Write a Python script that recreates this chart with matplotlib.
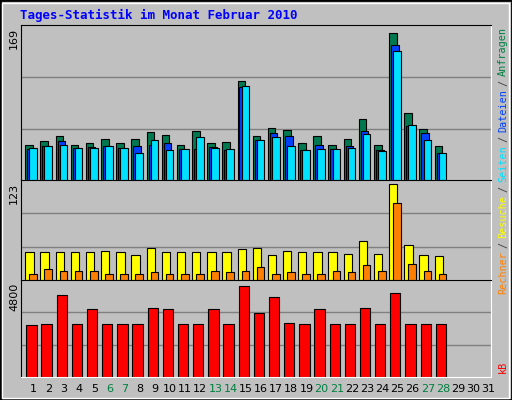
import matplotlib
matplotlib.use("Agg")
import matplotlib.pyplot as plt
from matplotlib.patches import Rectangle
import numpy as np

days = list(range(1, 32))
hits  = [39,43,49,39,41,46,41,46,53,50,39,54,41,42,110,49,58,56,41,49,39,46,68,39,163,74,57,38]
files = [35,38,43,36,37,38,36,38,39,41,35,35,37,33,103,45,52,49,33,39,35,38,54,33,150,60,52,30]
pages = [36,38,39,36,36,38,36,30,45,33,35,48,36,35,104,45,48,38,33,35,35,36,51,32,144,61,45,30]
visits = [35,36,36,36,36,37,36,32,40,35,36,36,36,36,39,40,32,37,35,35,35,33,49,33,122,44,32,31]
sites  = [8,14,12,11,12,8,8,8,10,8,8,8,12,10,11,16,8,10,8,8,11,10,19,12,97,20,12,7]
kbytes = [2670,2720,4200,2720,3490,2720,2720,2720,3540,3490,2720,2720,3490,2720,4660,3280,4100,2770,2720,3490,2720,2720,3540,2720,4300,2720,2720,2720]
weekend = [6,7,13,14,20,21,27,28]
max_hits, max_visits, max_kb = 169, 123, 4800

W, H = 512, 400
fig = plt.figure(figsize=(W/100, H/100), dpi=100, facecolor="#C0C0C0")
fig.patches.append(Rectangle((0, 0), 1, 1, transform=fig.transFigure, fill=False, ec="black", lw=2))
fig.patches.append(Rectangle((2/W, 2/H), 1-5/W, 1-5/H, transform=fig.transFigure, fill=False, ec="white", lw=1))

def ax_at(x0, y0, x1, y1):
    ax = fig.add_axes([x0/W, 1-y1/H, (x1-x0)/W, (y1-y0)/H])
    ax.set_facecolor("#C0C0C0")
    ax.set_xlim(0.5, 31.5)
    for s in ("top", "left"):
        ax.spines[s].set_color("black")
    for s in ("bottom", "right"):
        ax.spines[s].set_color("white")
    ax.set_xticks([]); ax.set_yticks([])
    return ax

def grid(ax, vmax):
    for f in (1/3, 2/3):
        ax.axhline(vmax*f, color="#808080", lw=1, zorder=0)

n = len(hits)
x = np.arange(1, n+1)
ax1 = ax_at(21, 25, 491, 180)
ax1.set_ylim(0, max_hits*1.02); grid(ax1, max_hits*1.02*0.995)
ax1.bar(x-0.22, hits, 0.5, align="edge", color="#007850", ec="black", lw=0.8)
ax1.bar(x-0.09, files, 0.5, align="edge", color="#0040FF", ec="black", lw=0.8)
ax1.bar(x+0.05, pages, 0.5, align="edge", color="#00E0FF", ec="black", lw=0.8)

ax2 = ax_at(21, 180, 491, 280)
ax2.set_ylim(0, max_visits*1.03); grid(ax2, max_visits*1.03)
ax2.bar(x-0.22, visits, 0.55, align="edge", color="#FFFF00", ec="black", lw=0.8)
ax2.bar(x+0.05, sites, 0.5, align="edge", color="#FF8000", ec="black", lw=0.8)

ax3 = ax_at(21, 280, 491, 377)
ax3.set_ylim(0, max_kb*1.03); grid(ax3, max_kb*1.03)
ax3.bar(x-0.15, kbytes, 0.68, align="edge", color="#FF0000", ec="black", lw=0.8)

for d in days:
    px = 21 + (d-0.5)/31*470 + 5
    fig.text(px/W, 1-389/H, str(d), ha="center", va="center", fontsize=8,
             color="#008040" if d in weekend else "black")

fig.text(20/W, 1-15/H, "Tages-Statistik im Monat Februar 2010", fontsize=9, fontweight="bold",
         color="#0000FF", family="DejaVu Sans Mono", va="center")
for lab, yy in (("169", 28), ("123", 183), ("4800", 283)):
    fig.text(14/W, 1-yy/H, lab, rotation=90, fontsize=8, va="top", ha="center")

pieces = [("Anfragen", "#008040", 27), ("/", "#404040", 80), ("Dateien", "#0040FF", 89),
          ("/", "#404040", 136), ("Seiten", "#00E0FF", 145), ("/", "#404040", 186),
          ("Besuche", "#FFFF00", 195), ("/", "#404040", 242), ("Rechner", "#FF8000", 251),
          ("kB", "#FF0000", 361)]
for t, c, yy in pieces:
    fig.text(503/W, 1-yy/H, t, rotation=90, fontsize=7.3, color=c, va="top", ha="center",
             family="DejaVu Sans Mono")

fig.savefig("out.png", dpi=100, facecolor=fig.get_facecolor())
